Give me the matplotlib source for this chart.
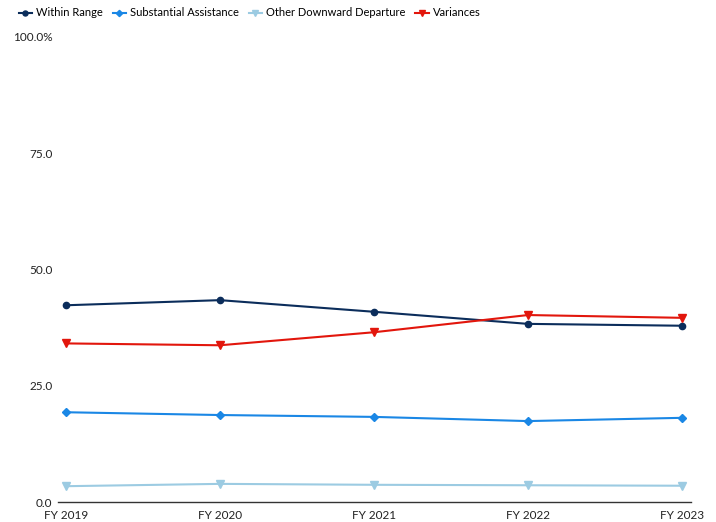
import matplotlib.pyplot as plt

plt.rcParams['font.family'] = ['Lato', 'DejaVu Sans']

# data
years = ["FY 2019", "FY 2020", "FY 2021", "FY 2022", "FY 2023"]
within_range = [42.3, 43.4, 40.9, 38.3, 37.9]
substantial = [19.3, 18.7, 18.3, 17.4, 18.1]
other_downward = [3.4, 3.9, 3.7, 3.6, 3.5]
variances = [34.1, 33.7, 36.5, 40.2, 39.6]
y_ticks = [0, 25, 50, 75, 100]
y_labels = ["0.0", "25.0", "50.0", "75.0", "100.0%"]

fig = plt.figure(figsize=(7.16, 5.22), dpi=100)
ax = fig.add_axes([0.081, 0.0383, 0.884, 0.891])

x = range(len(years))
ax.plot(x, within_range, marker='o', color='#0b2d5b', lw=1.5, ms=4.5, label='Within Range')
ax.plot(x, substantial, marker='D', color='#1a87e5', lw=1.5, ms=4, label='Substantial Assistance')
ax.plot(x, other_downward, marker='v', color='#9ccbe2', lw=1.5, ms=6, label='Other Downward Departure')
ax.plot(x, variances, marker='v', color='#e2160c', lw=1.5, ms=6, label='Variances')

ax.set_xlim(-0.052, 4.058)
ax.set_ylim(0, 100)
ax.set_xticks(list(x))
ax.set_xticklabels(years)
ax.set_yticks(y_ticks)
ax.set_yticklabels(y_labels)
ax.tick_params(axis='both', length=0, labelsize=8.5, colors='#222222')
ax.tick_params(axis='x', pad=6)
ax.tick_params(axis='y', pad=4)

for side in ['top', 'right', 'left']:
    ax.spines[side].set_visible(False)
ax.spines['bottom'].set_color('#333333')
ax.spines['bottom'].set_linewidth(1)

fig.legend(loc='upper left', bbox_to_anchor=(0.012, 1.005), ncol=4, frameon=False,
           fontsize=8, handlelength=1.2, handletextpad=0.35, columnspacing=0.9,
           markerscale=0.8)

fig.savefig('out.png', dpi=100)
